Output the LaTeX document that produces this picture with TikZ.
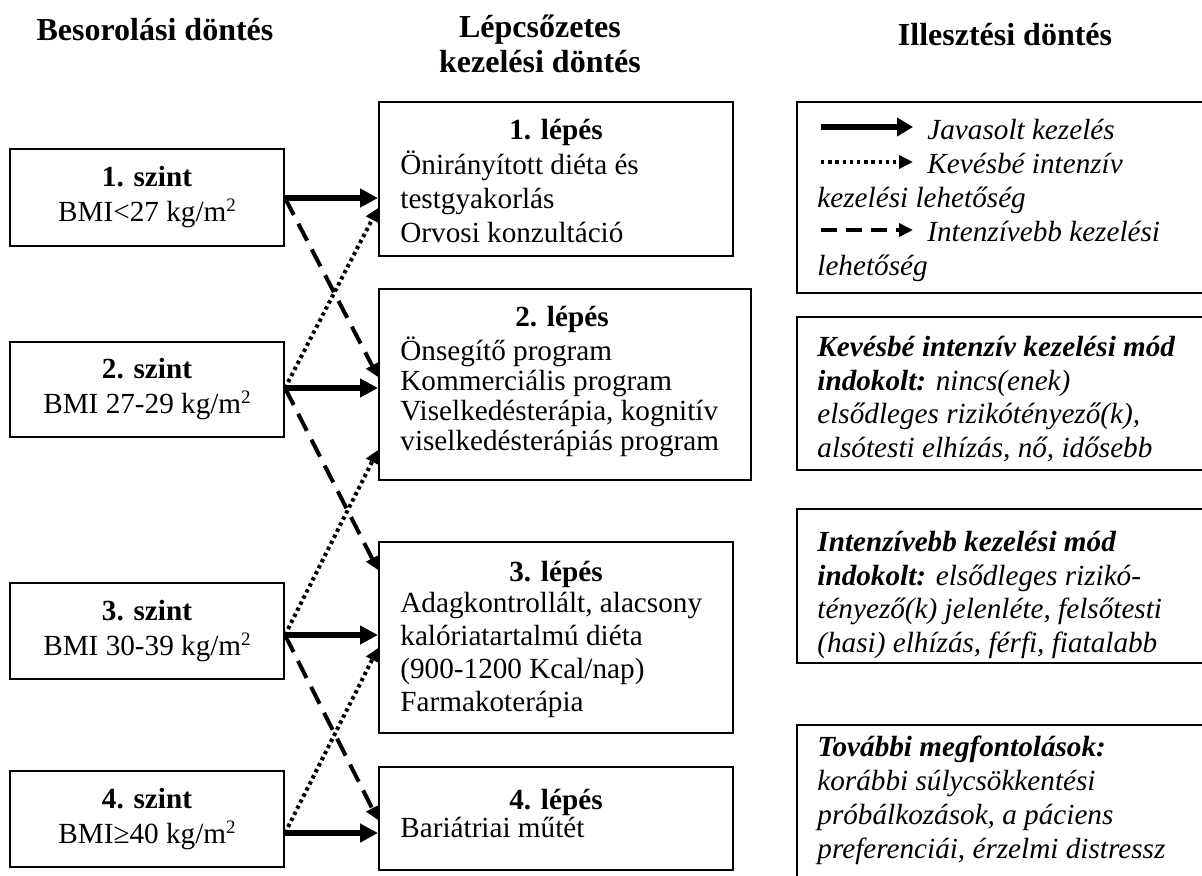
\documentclass[tikz,border=0pt]{standalone}
\usepackage{fontspec}
\setmainfont{Liberation Serif}
\usetikzlibrary{arrows.meta}
\newcommand{\sqsup}{\raisebox{0.75ex}{\fontsize{9.5pt}{10pt}\selectfont 2}}
\begin{document}
\begin{tikzpicture}[x=0.5pt,y=-0.5pt,
  txt/.style={inner sep=0pt, font=\fontsize{14.6pt}{17pt}\selectfont},
  ttl/.style={inner sep=0pt, anchor=base, font=\fontsize{16pt}{18pt}\selectfont\bfseries},
  frame/.style={draw, line width=1pt, inner sep=0pt},
  lbox/.style={frame, minimum width=137pt, align=center, font=\fontsize{14.6pt}{17.5pt}\selectfont},
  head/.style={inner sep=0pt, anchor=base, font=\fontsize{14.6pt}{17pt}\selectfont\bfseries},
  body/.style={inner sep=0pt, align=left, anchor=north west},
  rtxt/.style={body, font=\fontsize{14.6pt}{17pt}\selectfont\itshape},
  solidarr/.style={line width=2.6pt, -{Triangle[length=9pt,width=9pt]}},
  dasharr/.style={line width=2pt, dash pattern=on 9.5pt off 5pt, -{Triangle[length=6.5pt,width=6.5pt]}},
  dotarr/.style={line width=2pt, dash pattern=on 1.7pt off 1.7pt, -{Triangle[length=6.5pt,width=6.5pt]}},
  legsolid/.style={line width=2.6pt, -{Triangle[length=8pt,width=9pt]}},
  legdash/.style={line width=2pt, dash pattern=on 8pt off 4.5pt, -{Triangle[length=7pt,width=6.5pt]}},
  legdot/.style={line width=2pt, dash pattern=on 1.7pt off 1.9pt, -{Triangle[length=7pt,width=6.5pt]}},
]
\useasboundingbox (0,0) rectangle (1202,875);

% titles
\node[ttl] (T1) at (155,40) {Besorolási döntés};
\node[ttl] (T2) at (540,37) {Lépcsőzetes};
\node[ttl] (T2b) at (540,72) {kezelési döntés};
\node[ttl] (T3) at (1005,45) {Illesztési döntés};

% left boxes
\node[lbox, minimum height=48.5pt] (L1) at (147,197.5) {\textbf{1. szint}\\BMI<27 kg/m\sqsup};
\node[lbox, minimum height=47.5pt] (L2) at (147,389.5) {\textbf{2. szint}\\BMI 27-29 kg/m\sqsup};
\node[lbox, minimum height=48pt] (L3) at (147,631) {\textbf{3. szint}\\BMI 30-39 kg/m\sqsup};
\node[lbox, minimum height=48pt] (L4) at (147,819) {\textbf{4. szint}\\BMI≥40 kg/m\sqsup};

% middle boxes
\node[frame, minimum width=177pt, minimum height=77pt] (M1) at (556,179) {};
\node[frame, minimum width=186pt, minimum height=95.5pt] (M2) at (565,384.5) {};
\node[frame, minimum width=177pt, minimum height=95.5pt] (M3) at (556,637.5) {};
\node[frame, minimum width=177pt, minimum height=51.5pt] (M4) at (556,818.5) {};

\node[head] (M1h) at (556,139) {1. lépés};
\node[body, font=\fontsize{14.6pt}{17pt}\selectfont] (M1t) at (400,150.2) {\strut Önirányított diéta és\\testgyakorlás\\Orvosi konzultáció};
\node[head] (M2h) at (562,326) {2. lépés};
\node[body, font=\fontsize{14.6pt}{15pt}\selectfont] (M2t) at (400,336) {\strut Önsegítő program\\Kommerciális program\\Viselkedésterápia, kognitív\\viselkedésterápiás program};
\node[head] (M3h) at (556,581) {3. lépés};
\node[body, font=\fontsize{14.6pt}{16.5pt}\selectfont] (M3t) at (400,589) {\strut Adagkontrollált, alacsony\\kalóriatartalmú diéta\\(900-1200 Kcal/nap)\\Farmakoterápia};
\node[head] (M4h) at (556,809) {4. lépés};
\node[txt, anchor=base west] (M4t) at (400,837) {Bariátriai műtét};

% right boxes
\node[frame, minimum width=207.5pt, minimum height=95.5pt] (R1) at (1004.5,197.5) {};
\node[frame, minimum width=207.5pt, minimum height=76.5pt] (R2) at (1004.5,393.5) {};
\node[frame, minimum width=207.5pt, minimum height=77pt] (R3) at (1004.5,586) {};
\node[frame, minimum width=207.5pt, minimum height=102.5pt] (R4) at (1004.5,827.5) {};

\node[rtxt] (R1t) at (817,115.2) {\strut\hspace*{55pt}Javasolt kezelés\\\hspace*{55pt}Kevésbé intenzív\\kezelési lehetőség\\\hspace*{55pt}Intenzívebb kezelési\\lehetőség};
\node[rtxt, font=\fontsize{14.6pt}{16.85pt}\selectfont\itshape] (R2t) at (817,332.4) {\strut\textbf{Kevésbé intenzív kezelési mód}\\\textbf{indokolt:} nincs(enek)\\elsődleges rizikótényező(k),\\alsótesti elhízás, nő, idősebb};
\node[rtxt, font=\fontsize{14.6pt}{16.85pt}\selectfont\itshape] (R3t) at (817,527.4) {\strut\textbf{Intenzívebb kezelési mód}\\\textbf{indokolt:} elsődleges rizikó-\\tényező(k) jelenléte, felsőtesti\\(hasi) elhízás, férfi, fiatalabb};
\node[rtxt] (R4t) at (817,732.2) {\strut\textbf{További megfontolások:}\\korábbi súlycsökkentési\\próbálkozások, a páciens\\preferenciái, érzelmi distressz};

% legend arrows
\coordinate (a1s) at (821,127); \coordinate (a1e) at (913,127);
\coordinate (a2s) at (821,162); \coordinate (a2e) at (913,162);
\coordinate (a3s) at (821,230); \coordinate (a3e) at (913,230);
\draw[legsolid] (a1s) -- (a1e);
\draw[legdot] (a2s) -- (a2e);
\draw[legdash] (a3s) -- (a3e);

% solid arrows
\draw[solidarr] (L1.east |- 0,198) -- (M1.west |- 0,198);
\draw[solidarr] (L2.east |- 0,388) -- (M2.west |- 0,388);
\draw[solidarr] (L3.east |- 0,635) -- (M3.west |- 0,635);
\draw[solidarr] (L4.east |- 0,833) -- (M4.west |- 0,833);
% dashed arrows
\draw[dasharr] (L1.east |- 0,198) -- (M2.west |- 0,377);
\draw[dasharr] (L2.east |- 0,388) -- (M3.west |- 0,570);
\draw[dasharr] (L3.east |- 0,635) -- (M4.west |- 0,820);
% dotted arrows
\draw[dotarr] (L2.east |- 0,388) -- (M1.west |- 0,208);
\draw[dotarr] (L3.east |- 0,635) -- (M2.west |- 0,450);
\draw[dotarr] (L4.east |- 0,833) -- (M3.west |- 0,648);
\end{tikzpicture}
\end{document}
